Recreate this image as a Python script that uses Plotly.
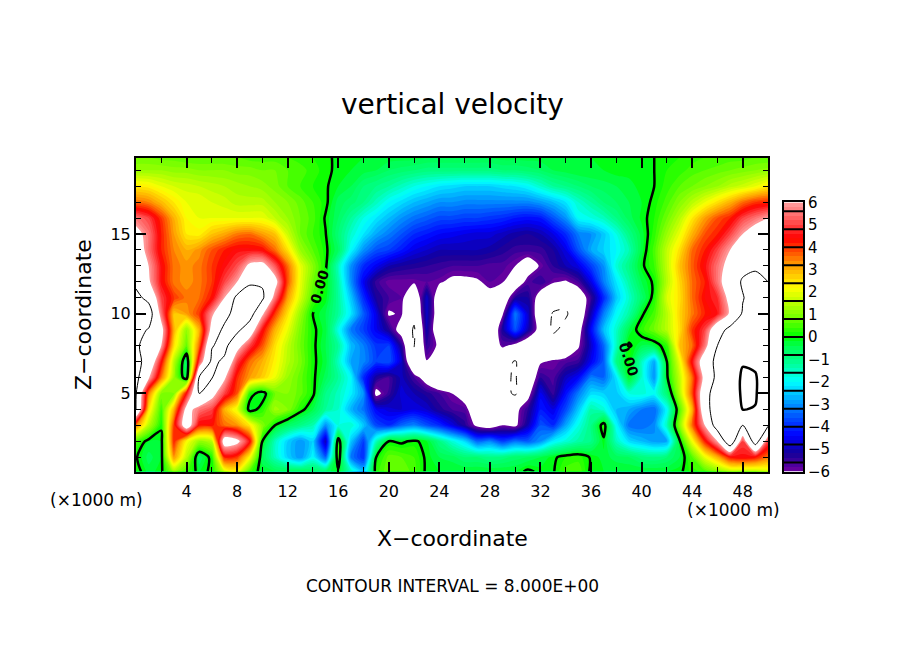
import numpy as np
import plotly.graph_objects as go

# x in 1000 m, z in 1000 m
x_km = list(range(51))
z_km = [19.8, 19, 18, 17, 16, 15, 14, 13, 12, 11, 10, 9, 8, 7, 6, 5, 4, 3, 2, 1, 0.1]

# vertical velocity, one row per z level, top row first
w_rows = [
    [0.8,0.8,0.7,0.7,0.6,0.6,0.6,0.6,0.6,0.5,0.5,0.5,0.4,0.3,0.2,0.1,-0.1,-0.1,-0.2,-0.2,-0.3,-0.3,-0.3,-0.4,-0.4,-0.4,-0.4,-0.4,-0.4,-0.3,-0.3,-0.3,-0.3,-0.2,-0.2,-0.2,-0.2,-0.1,-0.1,-0.1,-0.1,0.0,0.1,0.2,0.3,0.4,0.4,0.5,0.5,0.6,0.6],
    [1.2,1.2,1.2,1.1,1.1,1.0,1.0,1.0,0.9,0.9,0.8,0.8,0.6,0.5,0.3,0.1,-0.1,-0.2,-0.3,-0.4,-0.6,-0.7,-0.8,-0.9,-0.9,-0.9,-0.9,-0.9,-0.9,-0.8,-0.8,-0.7,-0.6,-0.4,-0.3,-0.2,-0.2,-0.2,-0.1,-0.1,-0.1,0.0,0.2,0.3,0.5,0.6,0.7,0.8,0.9,1.0,1.1],
    [2.4,2.3,2.0,1.8,1.7,1.6,1.5,1.4,1.3,1.2,1.1,0.9,0.6,0.4,0.2,0.05,-0.2,-0.4,-0.8,-1.0,-1.2,-1.5,-1.8,-2.0,-2.2,-2.3,-2.4,-2.4,-2.4,-2.3,-2.2,-2.0,-1.6,-1.2,-1.0,-0.8,-0.6,-0.5,-0.4,-0.3,-0.1,0.0,0.3,0.6,0.8,1.0,1.2,1.5,1.7,2.0,2.4],
    [3.6,3.4,2.9,2.4,2.0,2.0,1.8,1.7,1.5,1.5,1.5,1.2,1.0,0.7,0.4,0.1,-0.5,-0.7,-1.0,-1.5,-2.0,-2.3,-2.6,-2.8,-3.0,-3.0,-3.1,-3.1,-3.1,-3.1,-3.1,-3.1,-2.9,-2.6,-2.2,-1.6,-1.2,-0.8,-0.6,-0.4,-0.2,0.1,0.5,1.0,1.5,2.0,2.5,3.0,3.6,4.0,4.1],
    [5.5,5.0,4.0,3.0,2.2,2.0,2.0,2.0,2.0,2.0,2.0,1.6,1.2,0.8,0.5,-0.05,-0.6,-1.2,-1.8,-2.2,-2.6,-3.0,-3.3,-3.5,-3.7,-3.7,-3.8,-3.8,-3.9,-4.0,-4.2,-4.3,-4.2,-3.6,-3.0,-2.0,-1.8,-1.5,-1.0,-0.5,-0.15,0.2,0.8,1.5,2.4,3.2,3.8,4.2,5.0,5.5,6.0],
    [6.5,5.5,4.2,3.2,2.4,2.3,2.8,3.1,3.5,3.6,3.2,2.8,1.7,0.8,0.4,0.02,-0.8,-1.6,-2.2,-2.8,-3.2,-3.6,-4.0,-4.2,-4.4,-4.5,-4.6,-4.7,-4.7,-4.9,-5.1,-5.2,-5.0,-4.6,-4.0,-3.2,-3.0,-2.5,-1.8,-1.0,-0.3,0.3,1.2,2.0,3.0,3.8,4.2,5.0,6.0,6.8,7.0],
    [7.0,5.5,4.2,3.4,3.0,3.3,3.8,4.2,4.5,4.5,4.4,3.6,2.5,1.2,0.6,0.1,-0.6,-2.0,-3.0,-3.6,-3.8,-4.2,-4.6,-4.8,-5.0,-5.0,-5.0,-5.0,-5.1,-5.3,-5.5,-5.5,-5.5,-5.2,-4.6,-3.6,-2.8,-2.4,-2.0,-1.4,-0.3,0.5,1.6,2.5,3.6,4.2,5.0,6.0,7.0,7.5,7.5],
    [7.5,6.0,4.5,3.5,3.3,3.5,4.0,4.5,5.1,6.3,6.5,5.2,3.6,2.0,1.0,0.1,-1.5,-3.0,-4.0,-4.5,-5.0,-5.2,-5.3,-5.4,-5.5,-5.6,-5.6,-5.6,-5.7,-5.7,-6.0,-6.6,-5.9,-5.4,-5.0,-4.6,-3.8,-3.0,-1.7,-1.0,-0.1,0.4,1.6,2.8,3.7,4.5,5.5,6.5,7.5,7.9,7.9],
    [7.6,6.2,4.5,3.5,3.3,3.5,4.0,5.0,6.0,7.6,7.8,6.5,3.8,2.0,0.8,0.05,-1.3,-3.0,-4.5,-5.5,-5.9,-5.9,-5.9,-5.8,-5.9,-6.2,-6.2,-6.1,-5.8,-5.95,-6.8,-5.7,-5.4,-5.9,-6.1,-5.6,-4.6,-3.2,-2.2,-1.3,-0.4,0.1,1.5,2.6,3.6,4.2,5.5,7.0,8.2,8.2,8.0],
    [8.5,7.5,5.0,4.0,3.5,3.6,4.3,6.0,8.5,9.5,8.3,5.5,3.2,1.8,0.5,-0.1,-1.2,-2.5,-4.0,-5.2,-5.6,-5.8,-7.0,-4.8,-6.8,-7.5,-7.5,-7.0,-6.3,-6.8,-5.3,-5.2,-6.5,-7.3,-7.5,-6.8,-5.5,-4.0,-2.5,-1.6,-0.7,0.2,1.8,2.5,3.6,4.4,4.8,6.5,7.9,8.8,8.5],
    [8.8,9.0,5.5,2.8,3.2,4.0,5.8,7.2,9.0,8.8,6.2,4.0,2.5,1.2,0.0,-0.4,-1.2,-2.2,-3.5,-4.6,-6.1,-5.9,-7.5,-4.8,-6.8,-7.6,-7.6,-7.6,-7.0,-6.1,-3.2,-4.8,-7.0,-8.1,-8.2,-7.0,-5.0,-3.2,-2.0,-1.3,-0.1,0.5,1.5,2.6,3.5,4.2,4.6,6.2,8.2,8.8,8.8],
    [8.5,7.9,6.5,3.0,1.1,3.0,6.5,8.5,8.4,7.0,4.5,3.0,2.0,0.9,0.1,-0.3,-1.8,-3.2,-3.8,-4.5,-5.3,-6.5,-8.2,-5.0,-7.0,-7.6,-7.5,-7.5,-7.5,-5.2,-3.6,-5.0,-6.5,-8.3,-7.5,-6.5,-4.4,-2.6,-1.6,-0.4,0.3,0.8,1.5,2.5,4.0,5.0,7.2,8.5,9.5,10.0,10.0],
    [8.3,7.2,6.0,2.5,0.7,3.6,7.9,8.5,6.6,5.0,3.8,2.5,1.6,0.8,0.1,-0.4,-1.2,-2.6,-3.2,-3.9,-3.8,-5.3,-8.05,-5.4,-6.2,-7.0,-7.5,-7.5,-7.0,-5.8,-6.3,-7.0,-7.0,-7.0,-7.0,-6.1,-4.8,-3.4,-1.5,0.1,-0.4,-0.3,0.3,2.8,3.6,5.5,8.0,10.0,10.5,10.5,10.5],
    [8.4,7.5,4.5,1.5,-0.7,5.0,8.4,7.7,5.0,3.6,3.0,2.3,1.5,0.9,0.1,-0.3,-1.5,-2.8,-3.1,-3.8,-3.6,-4.8,-7.5,-6.05,-7.0,-7.5,-7.5,-7.6,-7.5,-7.5,-8.1,-7.0,-6.1,-5.9,-5.7,-5.5,-4.5,-3.5,-1.0,0.05,-1.5,-2.8,0.0,2.0,4.5,7.0,8.5,11.0,15.5,15.0,12.0],
    [8.5,6.2,3.5,1.2,-0.5,8.1,8.1,6.2,4.1,3.2,2.7,2.0,1.2,0.7,0.1,-0.5,-1.2,-2.0,-4.0,-5.2,-5.6,-4.9,-5.6,-6.5,-7.5,-7.6,-7.6,-7.6,-7.5,-7.8,-8.1,-7.0,-5.4,-5.7,-4.9,-4.4,-3.2,-3.4,-2.2,-0.1,-1.6,-3.0,-0.1,1.6,3.6,6.5,8.5,12.0,17.0,16.5,12.0],
    [8.1,3.5,1.0,1.0,4.5,8.0,6.5,5.0,3.8,0.25,-0.3,0.8,1.0,0.7,0.1,-1.0,-1.5,-2.1,-3.0,-6.3,-5.5,-4.7,-5.0,-5.3,-5.6,-6.0,-6.5,-7.2,-7.2,-7.5,-8.2,-6.4,-4.5,-5.5,-4.3,-3.2,-2.3,-2.4,-2.5,-1.8,-1.7,-2.0,-0.8,1.4,3.8,7.3,9.0,12.0,17.0,16.5,12.0],
    [8.0,2.5,0.4,3.0,6.5,5.5,5.0,3.0,2.0,-0.3,0.25,1.3,1.0,0.2,-0.4,-1.2,-1.6,-2.7,-3.3,-4.4,-4.7,-4.8,-4.6,-4.8,-5.3,-5.6,-5.7,-6.8,-7.2,-7.3,-6.3,-5.4,-4.2,-4.6,-3.7,-2.5,-1.3,-1.7,-2.6,-2.8,-3.2,-3.4,-2.0,0.6,3.0,7.3,9.0,11.0,16.1,15.8,10.0],
    [3.5,1.5,0.1,4.0,7.0,4.3,4.3,3.6,3.3,2.4,1.0,0.0,-0.6,-1.0,-1.4,-3.0,-1.8,-1.6,-2.5,-3.7,-4.0,-3.4,-3.1,-3.6,-4.0,-4.6,-5.3,-6.2,-6.6,-6.0,-6.2,-5.0,-3.6,-4.0,-2.8,-1.8,-1.0,0.3,-2.0,-3.3,-3.4,-3.1,-1.5,1.0,3.6,6.0,9.0,9.5,8.0,10.0,8.2],
    [0.5,-0.2,-0.2,4.2,2.2,1.2,1.5,6.8,6.4,4.5,0.0,-1.5,-2.4,-3.0,-2.4,-5.0,0.4,-2.5,-3.8,-1.5,0.0,-0.1,0.1,-0.2,-1.0,-1.7,-2.3,-3.4,-3.1,-3.8,-3.3,-3.5,-3.0,-2.1,-1.7,-1.3,-1.0,-0.1,-1.5,-2.3,-2.6,-2.9,-2.8,-0.1,2.1,4.2,6.0,9.5,5.0,9.0,5.0],
    [0.05,-0.5,-0.2,3.3,1.5,-0.6,0.2,4.2,4.0,2.2,-0.5,-1.5,-2.4,-3.0,-2.0,-3.5,0.5,-3.2,-4.0,0.0,0.7,0.6,0.4,-0.1,-0.4,-0.5,-0.8,-0.8,-1.0,-0.9,-0.7,-0.6,-0.4,-0.1,0.2,0.3,-0.05,-0.3,-0.5,-0.6,-0.9,-1.0,-0.8,-0.4,0.6,2.0,3.0,4.3,4.5,4.3,3.5],
    [0.2,-0.3,-0.1,1.2,0.5,-0.2,0.1,1.8,2.2,0.5,-0.3,-0.4,-0.4,-0.4,-0.5,-0.6,-0.1,-1.5,-2.5,0.3,0.8,0.8,0.5,-0.1,-0.2,-0.2,-0.2,-0.2,-0.2,-0.2,-0.2,0.1,-0.1,-0.05,0.5,0.6,-0.1,-0.2,-0.2,-0.2,-0.2,-0.2,-0.2,-0.1,0.3,0.5,1.0,1.5,1.5,1.5,1.8],
]

# colour table: value, colour
color_vals = [-6, -5.2, -4.4, -3.6, -2.8, -2, -1.2, -0.4, 0, 0.8, 1.6, 2.2, 3.2, 4.4, 5.2, 6]
color_hex = ["#7000a0", "#140098", "#0000ff", "#0050ff", "#00a8ff", "#00ffff", "#00ff98", "#00ff50",
             "#00ff00", "#70ff00", "#c0ff00", "#ffff00", "#ffa000", "#ff0000", "#ff5858", "#ffa0a0"]

band = 0.2
x_ticks = [4, 8, 12, 16, 20, 24, 28, 32, 36, 40, 44, 48]
z_ticks = [5, 10, 15]
cbar_ticks = [-6, -5, -4, -3, -2, -1, 0, 1, 2, 3, 4, 5, 6]
cbar_lines = [-5.6, -4.8, -4.0, -3.2, -2.4, -1.6, -0.8, 0, 0.8, 1.6, 2.4, 3.2, 4.0, 4.8, 5.6]

w = np.array(w_rows, dtype=float)

# contour fill maps start-band/2 .. end+band/2 onto the scale, outside that is white
lo = -6 - band / 2
hi = 6 + band / 2
def pos(v):
    return (v - lo) / (hi - lo)

scale = [[0, "white"], [pos(-6), "white"]]
for v, c in zip(color_vals, color_hex):
    scale.append([pos(v), c])
scale += [[pos(6), "white"], [1, "white"]]

# the page body keeps its 8 px margin, so the figure is 16 px smaller than the window.
# the paper area came out 8 px short at top and bottom too, hence TOP and PAPER_H
OFF = 8
W = 904 - 2 * OFF
H = 654 - 2 * OFF
TOP = 16
PAPER_H = 622
def fx(px):
    return (px - OFF) / W
def fy(py):
    return 1 - (py - TOP) / PAPER_H

fig = go.Figure()

fig.add_trace(go.Contour(x=x_km, y=z_km, z=w, colorscale=scale, showscale=False,
                         autocontour=False,
                         contours=dict(start=-6, end=6, size=band, coloring="fill", showlines=False),
                         line=dict(width=0, smoothing=0.8), hoverinfo="skip"))

# gaps in the zero line where the 0.00 labels sit
w0 = w.copy()
for zz, xx in [(12, 14), (12, 15), (11, 14), (11, 15), (7, 39), (7, 38)]:
    w0[z_km.index(zz), xx] = np.nan

def add_line(data, level, width, dash):
    fig.add_trace(go.Contour(x=x_km, y=z_km, z=data, showscale=False, autocontour=False,
                             contours=dict(start=level, end=level, size=1, coloring="none"),
                             line=dict(color="black", width=width, dash=dash, smoothing=0.8),
                             hoverinfo="skip"))

add_line(w0, 0, 2.5, "solid")
add_line(w, 8, 1, "solid")
add_line(w, -8, 1, "dash")
add_line(w, 16, 2.5, "solid")

# colour bar as its own little axes
edges = np.arange(-6, 6 + band / 2, band)
mids = (edges[:-1] + edges[1:]) / 2
fig.add_trace(go.Heatmap(x=[0, 1], y=edges, z=[[m] for m in mids], zmin=lo, zmax=hi,
                         colorscale=scale, showscale=False, xaxis="x2", yaxis="y2", hoverinfo="skip"))
sep_x = []
sep_y = []
for v in cbar_lines:
    sep_x += [0, 1, None]
    sep_y += [v, v, None]
fig.add_trace(go.Scatter(x=sep_x, y=sep_y, mode="lines", line=dict(color="black", width=2),
                         showlegend=False, xaxis="x2", yaxis="y2", hoverinfo="skip"))

font = "DejaVu Sans"
notes = [
    ("vertical velocity", 452, 104, 28, 0),
    ("X\u2212coordinate", 452, 539, 22, 0),
    ("Z\u2212coordinate", 83, 315, 22, -90),
    ("CONTOUR INTERVAL = 8.000E+00", 452, 587, 17, 0),
    ("(\u00d71000 m)", 96, 501, 17, 0),
    ("(\u00d71000 m)", 733, 511, 17, 0),
]
ann = []
for text, px, py, size, angle in notes:
    ann.append(dict(text=text, x=fx(px), y=fy(py), xref="paper", yref="paper", showarrow=False,
                    xanchor="center", yanchor="middle", textangle=angle,
                    font=dict(family=font, size=size, color="black")))
for text_x, text_z, angle in [(14.5, 11.7, -74), (39.0, 7.1, 72)]:
    ann.append(dict(text="<b>0.00</b>", x=text_x, y=text_z, xref="x", yref="y", showarrow=False,
                    textangle=angle, font=dict(family=font, size=14, color="black")))

fig.update_layout(
    width=W, height=H, margin=dict(l=0, r=0, t=0, b=0), paper_bgcolor="white", plot_bgcolor="white",
    showlegend=False, annotations=ann,
    xaxis=dict(domain=[fx(136), fx(768)], range=[0, 50], tickvals=x_ticks, ticks="inside", ticklen=10,
               tickwidth=2, tickcolor="black", mirror="allticks", showline=True, linecolor="black",
               linewidth=2, showgrid=False, zeroline=False, tickfont=dict(family=font, size=16, color="black"),
               ticklabelstandoff=4,
               minor=dict(dtick=2, tick0=0, ticks="inside", ticklen=5, tickwidth=1, tickcolor="black")),
    yaxis=dict(domain=[fy(472), fy(157)], range=[0.1, 19.8], tickvals=z_ticks, ticks="inside", ticklen=10,
               tickwidth=2, tickcolor="black", mirror="allticks", showline=True, linecolor="black",
               linewidth=2, showgrid=False, zeroline=False, tickfont=dict(family=font, size=16, color="black"),
               minor=dict(dtick=1, tick0=0, ticks="inside", ticklen=5, tickwidth=1, tickcolor="black")),
    xaxis2=dict(domain=[fx(784), fx(803)], range=[0, 1], anchor="y2", showticklabels=False, ticks="",
                showgrid=False, zeroline=False, showline=True, mirror=True, linecolor="black", linewidth=2),
    yaxis2=dict(domain=[fy(472), fy(202)], range=[-6, 6], anchor="x2", side="right", tickvals=cbar_ticks,
                ticks="", showgrid=False, zeroline=False, showline=True, mirror=True, linecolor="black", linewidth=2,
                tickfont=dict(family=font, size=15, color="black")),
)

fig.write_html("out.html")
